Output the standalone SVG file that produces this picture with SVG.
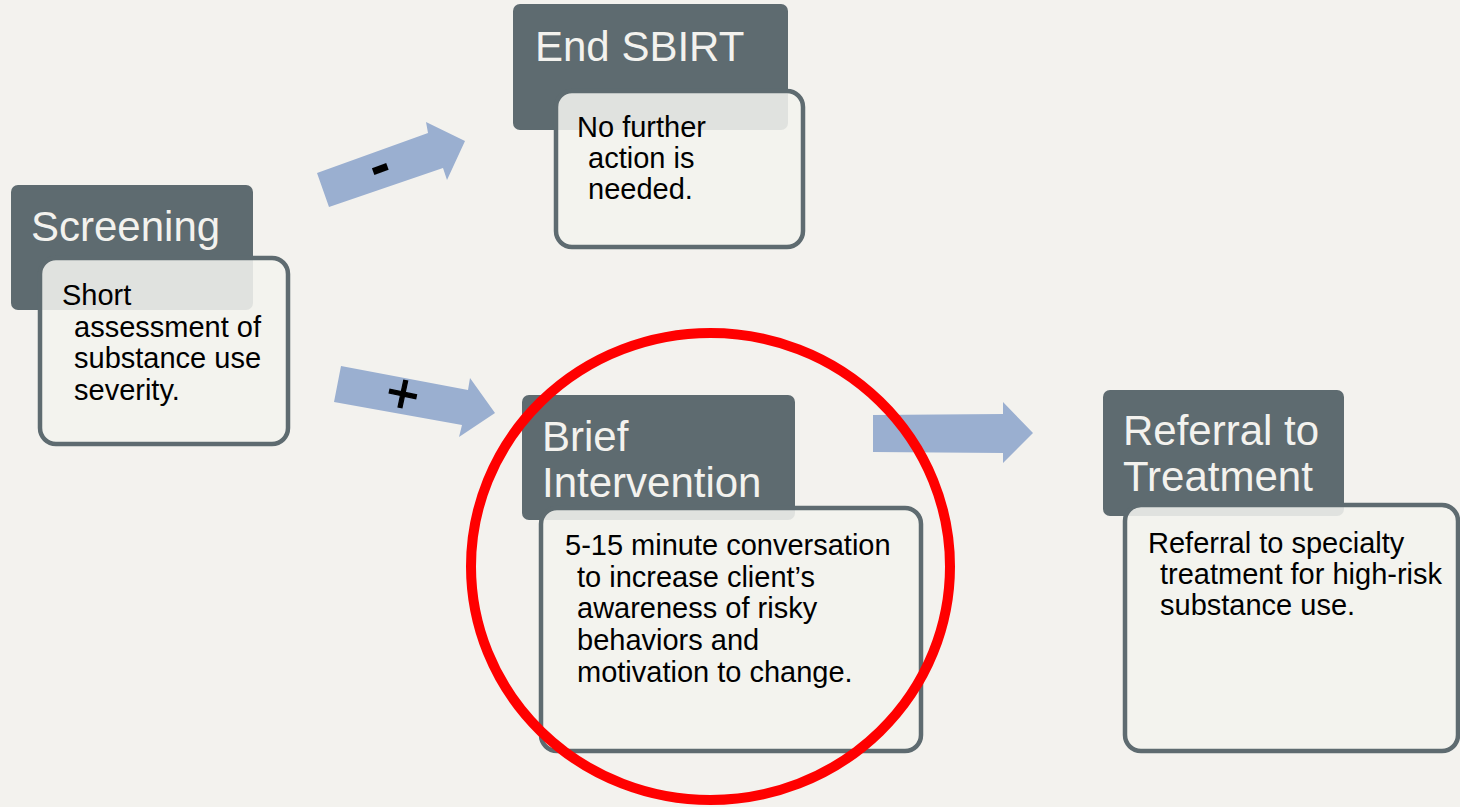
<svg xmlns="http://www.w3.org/2000/svg" width="1460" height="807" viewBox="0 0 1460 807">
  <style>
    .head { fill: #5e6b70; }
    .card { fill: #f3f2ee; fill-opacity: 0.88; stroke: #5e6b70; stroke-width: 4.5; }
    .title { font-family: "Liberation Sans", Arial, sans-serif; font-size: 42px; fill: #f3f2ee; }
    .body { font-family: "Liberation Sans", Arial, sans-serif; font-size: 29px; fill: #000; }
    .flow { fill: #9aafd0; }
    .sign { font-family: "Liberation Sans", Arial, sans-serif; fill: #000; text-anchor: middle; }
  </style>
  <rect width="1460" height="807" fill="#f3f2ee"/>

  <!-- flow arrows between steps -->
  <g id="connectors">
    <polygon class="flow" points="317,173 428,133 426,122 465,141 447,180 443,168 329,207"/>
    <text class="sign" x="380" y="184.5" font-size="60" font-weight="bold" transform="rotate(-20 380 168)">-</text>
    <polygon class="flow" points="341,366 468,390 470,378 495,413 459,437 462,425 334,402"/>
    <text class="sign" x="403" y="412.5" font-size="56" stroke="#000" stroke-width="1.2" transform="rotate(12 403 393)">+</text>
    <polygon class="flow" points="873,415 1003,414 1003,402 1033,433 1003,463 1003,453 873,452"/>
  </g>

  <g id="screening">
    <rect class="head" x="11" y="185" width="242" height="125" rx="7"/>
    <rect class="card" x="40" y="258" width="248" height="186" rx="16"/>
    <text class="title" x="31" y="241">Screening</text>
    <text class="body"><tspan x="62" y="305">Short</tspan><tspan x="74" y="337">assessment of</tspan><tspan x="74" y="368">substance use</tspan><tspan x="74" y="400">severity.</tspan></text>
  </g>

  <g id="end-sbirt">
    <rect class="head" x="513" y="4" width="275" height="126" rx="7"/>
    <rect class="card" x="556" y="91" width="247" height="156" rx="16"/>
    <text class="title" x="535" y="61">End SBIRT</text>
    <text class="body"><tspan x="577" y="137">No further</tspan><tspan x="588" y="168">action is</tspan><tspan x="588" y="199">needed.</tspan></text>
  </g>

  <g id="brief-intervention">
    <rect class="head" x="522" y="395" width="273" height="125" rx="7"/>
    <rect class="card" x="541" y="508" width="380" height="243" rx="16"/>
    <text class="title"><tspan x="542" y="451">Brief</tspan><tspan x="542" y="497">Intervention</tspan></text>
    <text class="body"><tspan x="565" y="555">5-15 minute conversation</tspan><tspan x="577" y="587">to increase client’s</tspan><tspan x="577" y="618">awareness of risky</tspan><tspan x="577" y="650">behaviors and</tspan><tspan x="577" y="682">motivation to change.</tspan></text>
  </g>

  <g id="referral">
    <rect class="head" x="1103" y="390" width="241" height="126" rx="7"/>
    <rect class="card" x="1125" y="505" width="333" height="246" rx="16"/>
    <text class="title"><tspan x="1123" y="445">Referral to</tspan><tspan x="1123" y="491">Treatment</tspan></text>
    <text class="body"><tspan x="1148" y="553">Referral to specialty</tspan><tspan x="1160" y="584">treatment for high-risk</tspan><tspan x="1160" y="615">substance use.</tspan></text>
  </g>

  <!-- highlight ring -->
  <g id="highlight">
    <ellipse cx="710.5" cy="566.5" rx="239.5" ry="233.5" fill="none" stroke="#ff0000" stroke-width="10"/>
  </g>
</svg>
